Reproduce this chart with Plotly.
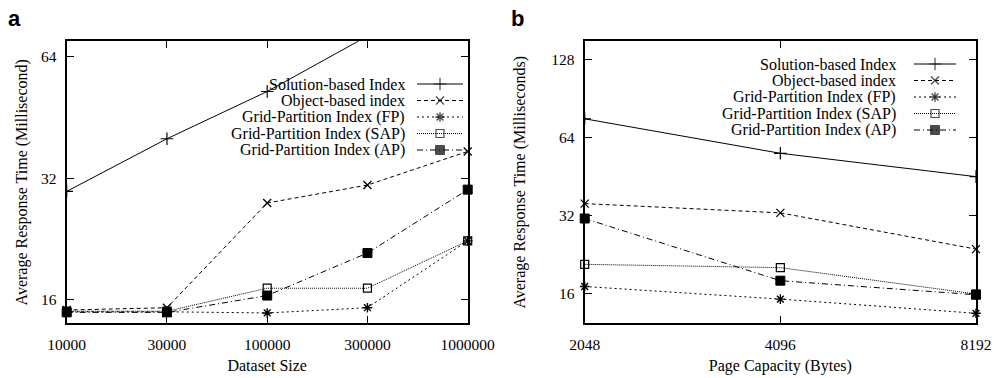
import math
import plotly.graph_objects as go

# ---------------- data ----------------
sizes = ["10000", "30000", "100000", "300000", "1000000"]
capacities = ["2048", "4096", "8192"]
series_names = ["Solution-based Index", "Object-based index",
                "Grid-Partition Index (FP)", "Grid-Partition Index (SAP)",
                "Grid-Partition Index (AP)"]

a_solution = [29.7, 40.1, 52.5, 72.0, None]
a_object = [15.1, 15.3, 27.8, 30.8, 37.3]
a_fp = [14.95, 14.95, 14.85, 15.3, 22.4]
a_sap = [15.0, 15.0, 17.1, 17.1, 22.4]
a_ap = [14.9, 14.9, 16.4, 20.9, 30.0]

b_solution = [75.4, 55.5, 45.1]
b_object = [35.5, 32.7, 23.7]
b_fp = [17.0, 15.2, 13.4]
b_sap = [20.7, 20.1, 15.9]
b_ap = [31.1, 17.9, 15.8]

a_yticks = [16, 32, 64]
b_yticks = [16, 32, 64, 128]

# ---------------- styles ----------------
W, H = 994, 378
SERIF = "Liberation Serif, Times New Roman, serif"
styles = [
    dict(dash="solid", symbol="cross-thin", size=9, lw=1.2),
    dict(dash="4px,3px", symbol="x-thin", size=8, lw=1.3),
    dict(dash="2px,3px", symbol="asterisk", size=8, lw=1.4),
    dict(dash="1px,1px", symbol="square-open", size=8, lw=1.2),
    dict(dash="6px,3px,1px,3px", symbol="square", size=9, lw=1),
]

fig = go.Figure()


def add_series(xs, ys, st, xa, ya, clip):
    fig.add_trace(go.Scatter(
        x=xs, y=ys, mode="lines+markers", xaxis=xa, yaxis=ya,
        line=dict(color="black", width=1, dash=st["dash"]),
        marker=dict(symbol=st["symbol"], size=st["size"], color="black",
                    line=dict(color="black", width=st["lw"])),
        cliponaxis=clip, showlegend=False, hoverinfo="skip"))


a_series = [a_solution, a_object, a_fp, a_sap, a_ap]
b_series = [b_solution, b_object, b_fp, b_sap, b_ap]
for i, ys in enumerate(a_series):
    add_series(sizes, ys, styles[i], "x", "y", i == 0)
for i, ys in enumerate(b_series):
    add_series(capacities, ys, styles[i], "x2", "y2", i == 0)

# ---------------- legend keys (gnuplot style: text right, sample left) ----
legend_layout = [
    dict(text_x=407, x0=417, x1=463, y0=84, dy=16.5),
    dict(text_x=898, x0=914, x1=956, y0=64, dy=16.5),
]
annotations = []
for lg in legend_layout:
    for i, name in enumerate(series_names):
        yy = lg["y0"] + i * lg["dy"]
        st = styles[i]
        xm = (lg["x0"] + lg["x1"]) / 2
        fig.add_trace(go.Scatter(
            x=[lg["x0"], xm, lg["x1"]], y=[yy, yy, yy], mode="lines+markers",
            xaxis="x3", yaxis="y3",
            line=dict(color="black", width=1, dash=st["dash"]),
            marker=dict(symbol=st["symbol"], size=[0, st["size"], 0], color="black",
                        line=dict(color="black", width=st["lw"])),
            cliponaxis=False, showlegend=False, hoverinfo="skip"))
        annotations.append(dict(
            x=lg["text_x"], y=yy, xref="x3", yref="y3", text=name,
            showarrow=False, xanchor="right", yanchor="middle",
            font=dict(family=SERIF, size=16, color="black")))

# panel labels
for lab, px in [("a", 14), ("b", 517)]:
    annotations.append(dict(
        x=px / W, y=1 - 18 / H, xref="paper", yref="paper", text="<b>%s</b>" % lab,
        showarrow=False, xanchor="center", yanchor="middle",
        font=dict(family="Liberation Sans, Arial, sans-serif", size=22, color="black")))

ydom = [1 - 323.3 / H, 1 - 41.3 / H]
axis_common = dict(showline=True, linecolor="black", linewidth=2, mirror="ticks",
                   ticks="inside", ticklen=7, tickwidth=1, tickcolor="black",
                   showgrid=False, zeroline=False, automargin=False,
                   tickfont=dict(family=SERIF, size=15.5, color="black"))
title_font = dict(family=SERIF, size=16, color="black")

fig.update_layout(
    template="none",
    width=W, height=H, margin=dict(l=0, r=0, t=0, b=0, autoexpand=False),
    paper_bgcolor="white", plot_bgcolor="rgba(0,0,0,0)",
    annotations=annotations,
    xaxis=dict(domain=[66.7 / W, 467.7 / W], anchor="y", type="category",
               range=[0, len(sizes) - 1], ticklabelstandoff=6,
               title=dict(text="Dataset Size", standoff=8, font=title_font),
               **axis_common),
    yaxis=dict(domain=ydom, anchor="x", type="log",
               range=[math.log10(14.0), math.log10(69.9)],
               tickvals=a_yticks, ticktext=[str(v) for v in a_yticks],
               ticklabelstandoff=5,
               title=dict(text="Average Response Time (Millisecond)", standoff=9,
                          font=title_font),
               **axis_common),
    xaxis2=dict(domain=[584.7 / W, 976 / W], anchor="y2", type="category",
                range=[0, len(capacities) - 1], ticklabelstandoff=6,
                title=dict(text="Page Capacity (Bytes)", standoff=8, font=title_font),
                **axis_common),
    yaxis2=dict(domain=ydom, anchor="x2", type="log",
                range=[math.log10(12.26), math.log10(150.1)],
                tickvals=b_yticks, ticktext=[str(v) for v in b_yticks],
                ticklabelstandoff=5,
                title=dict(text="Average Response Time (Milliseconds)", standoff=22,
                           font=title_font),
                **axis_common),
    xaxis3=dict(domain=[0, 1], anchor="y3", range=[0, W], visible=False,
                fixedrange=True, automargin=False),
    yaxis3=dict(domain=[0, 1], anchor="x3", range=[H, 0], visible=False,
                fixedrange=True, automargin=False),
)

fig.write_html("out.html")
